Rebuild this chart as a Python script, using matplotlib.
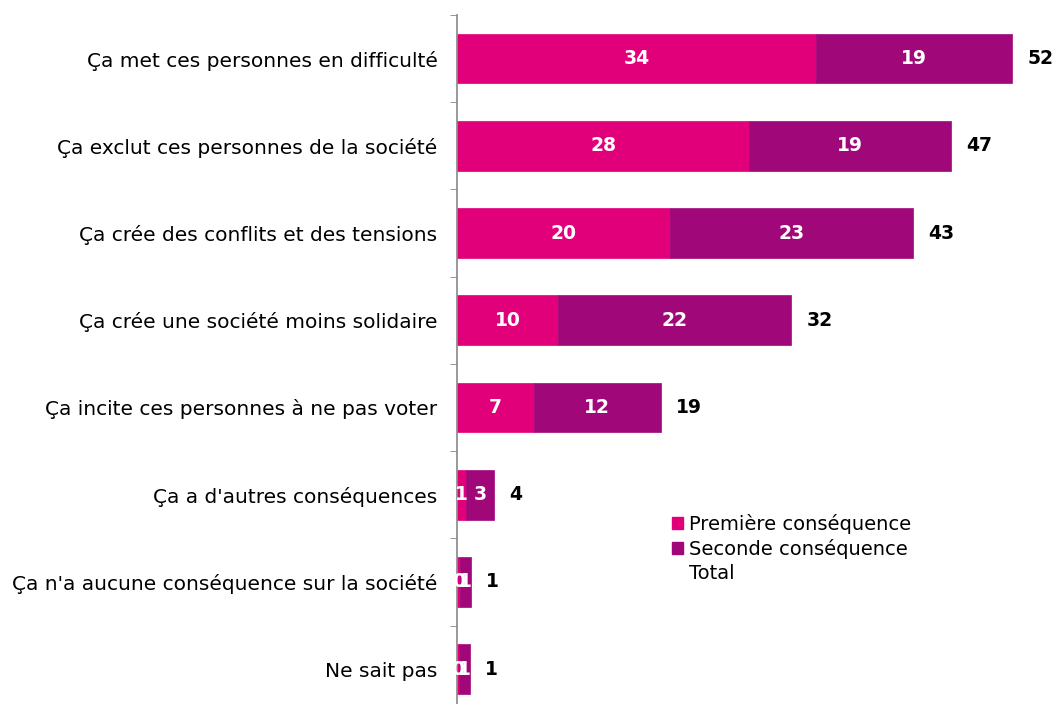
import numpy as np
import matplotlib.pyplot as plt
from matplotlib.patches import Patch

categories = ["Ça met ces personnes en difficulté",
              "Ça exclut ces personnes de la société",
              "Ça crée des conflits et des tensions",
              "Ça crée une société moins solidaire",
              "Ça incite ces personnes à ne pas voter",
              "Ça a d'autres conséquences",
              "Ça n'a aucune conséquence sur la société",
              "Ne sait pas"]
premiere = [34.0, 27.7, 20.2, 9.6, 7.3, 0.85, 0.3, 0.2]
seconde = [18.6, 19.1, 23.0, 22.1, 12.0, 2.65, 1.0, 1.0]
premiere_lbl = ["34", "28", "20", "10", "7", "1", "0", "0"]
seconde_lbl = ["19", "19", "23", "22", "12", "3", "1", "1"]
total_lbl = ["52", "47", "43", "32", "19", "4", "1", "1"]

pink = "#E2007A"
purple = "#A0087A"

fig = plt.figure(figsize=(10.57, 7.04), dpi=100, facecolor='white')
ax = fig.add_axes([457/1057, 0, 600/1057, 689/704])

y = np.arange(len(categories))
p = np.array(premiere)
s = np.array(seconde)
ax.barh(y, p, height=0.57, color=pink, edgecolor=pink, linewidth=0.5)
ax.barh(y, s, left=p, height=0.57, color=purple, edgecolor=purple, linewidth=0.5)

for i in range(len(categories)):
    ax.text(p[i]/2, y[i], premiere_lbl[i], ha='center', va='center',
            color='white', fontsize=13.5, fontweight='bold')
    ax.text(p[i] + s[i]/2, y[i], seconde_lbl[i], ha='center', va='center',
            color='white', fontsize=13.5, fontweight='bold')
    ax.annotate(total_lbl[i], (p[i] + s[i], y[i]), xytext=(11, 0),
                textcoords='offset points', ha='left', va='center',
                color='black', fontsize=13.5, fontweight='bold')

ax.set_xlim(0, 600/10.55)
ax.set_ylim(7.4, -0.5)
ax.set_yticks(y)
ax.set_yticklabels(categories, fontsize=14.5)
ax.set_yticks(np.arange(-0.5, 7.5, 1), minor=True)
ax.tick_params(axis='y', which='major', length=0, pad=14)
ax.tick_params(axis='y', which='minor', length=5, color='#888888', direction='out')
ax.xaxis.set_visible(False)
for side in ['top', 'right', 'bottom']:
    ax.spines[side].set_visible(False)
ax.spines['left'].set_color('#888888')
ax.spines['left'].set_linewidth(1.2)

handles = [Patch(facecolor=pink, edgecolor=pink),
           Patch(facecolor=purple, edgecolor=purple),
           Patch(facecolor='none', edgecolor='none')]
fig.legend(handles, ["Première conséquence", "Seconde conséquence", "Total"],
           loc='upper left', bbox_to_anchor=(672/1057, 1 - 514/704),
           frameon=False, fontsize=14, handlelength=0.55, handleheight=0.55,
           handletextpad=0.3, labelspacing=0.25, borderaxespad=0, borderpad=0)

fig.savefig('out.png', dpi=100)
